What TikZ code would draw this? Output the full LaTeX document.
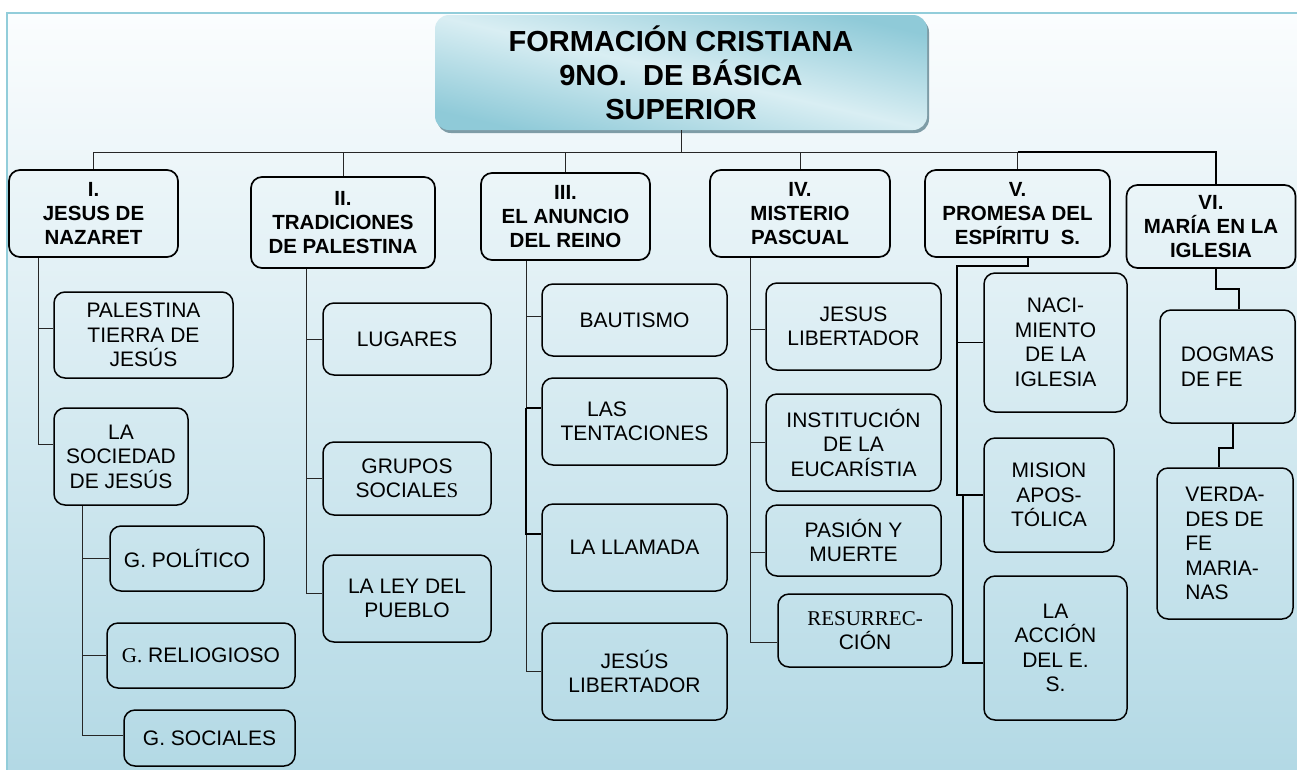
\documentclass[tikz,border=0pt]{standalone}
\usepackage{fontspec}
\setmainfont{Liberation Sans}
\newfontfamily\tnr{Liberation Serif}
\usetikzlibrary{shadows}

\definecolor{framecol}{HTML}{92CDDA}
\definecolor{bgtop}{HTML}{FBFDFE}
\definecolor{bgbot}{HTML}{B3D9E5}
\definecolor{tlight}{HTML}{D9EEF3}
\definecolor{tblue}{HTML}{8FCAD8}
\definecolor{shadowcol}{HTML}{7E9CA6}

\newcommand{\leaffont}{\fontsize{21}{24.5}\selectfont}
\newcommand{\headfont}{\fontsize{20.5}{24}\selectfont\bfseries}
\newcommand{\titlefont}{\fontsize{29}{34.2}\selectfont\bfseries}

\begin{document}
\begin{tikzpicture}[x=1pt,y=-1pt,
    titlebox/.style={rounded corners=14pt, inner sep=0pt, align=center, font=\titlefont,
      top color=tblue, bottom color=tblue, middle color=tlight, shading angle=-13,
      drop shadow={shadow xshift=2pt, shadow yshift=-3pt, fill=shadowcol, opacity=1}},
    head/.style={draw, rounded corners=11pt, line width=1.7pt, inner sep=0pt, align=center, font=\headfont},
    leaf/.style={draw, rounded corners=11pt, line width=1.5pt, inner sep=0pt, align=center, font=\leaffont},
    conn/.style={line width=0.9pt, black!85},
    thk/.style={line width=1.7pt, black}]
  \useasboundingbox (0,0) rectangle (1297,769);
  % background and frame
  \shade[top color=bgtop, bottom color=bgbot] (7,13) rectangle (1297,769);
  \draw[framecol, line width=2pt] (7,770) -- (7,13) -- (1298,13);

  % title
  \node[titlebox, minimum width=492pt, minimum height=115pt] (title) at (681,72.5)
    {FORMACIÓN CRISTIANA\\9NO.\ \ DE BÁSICA\\SUPERIOR};

  % units
  \node[head, minimum width=169pt, minimum height=87pt] (h1) at (93.5,213.5) {I.\\JESUS DE\\NAZARET};
  \node[head, minimum width=184pt, minimum height=91pt] (h2) at (343,222.5) {II.\\TRADICIONES\\DE PALESTINA};
  \node[head, minimum width=169pt, minimum height=87pt] (h3) at (565.5,216.5) {III.\\EL ANUNCIO\\DEL REINO};
  \node[head, minimum width=180pt, minimum height=87pt] (h4) at (800,213.5) {IV.\\MISTERIO\\PASCUAL};
  \node[head, minimum width=185pt, minimum height=87pt] (h5) at (1017.5,213.5) {V.\\PROMESA DEL\\ESPÍRITU\ \ S.};
  \node[head, minimum width=169pt, minimum height=83pt] (h6) at (1211,226.5) {VI.\\MARÍA EN LA\\IGLESIA};

  % I
  \node[leaf, minimum width=179pt, minimum height=86pt] (pal) at (143.5,335) {PALESTINA\\TIERRA DE\\JESÚS};
  \node[leaf, minimum width=134pt, minimum height=97pt] (soc) at (121,456.5) {LA\\SOCIEDAD\\DE JESÚS};
  \node[leaf, minimum width=154pt, minimum height=65pt] (gpol) at (187,558.5) {G. POLÍTICO};
  \node[leaf, minimum width=188pt, minimum height=65pt] (grel) at (201,655.5) {{\tnr G.} RELIOGIOSO};
  \node[leaf, minimum width=171pt, minimum height=56pt] (gsoc) at (209.5,738) {G. SOCIALES};
  % II
  \node[leaf, minimum width=168pt, minimum height=72pt] (lug) at (407,339) {LUGARES};
  \node[leaf, minimum width=168pt, minimum height=73pt] (gru) at (407,478.5) {GRUPOS\\SOCIALE{\tnr S}};
  \node[leaf, minimum width=168pt, minimum height=87pt] (ley) at (407,598.5) {LA LEY DEL\\PUEBLO};
  % III
  \node[leaf, minimum width=185pt, minimum height=72pt] (bau) at (634.5,320) {BAUTISMO};
  \node[leaf, minimum width=185pt, minimum height=87pt] (ten) at (634.5,421.5) {LAS\hspace{55pt}\null\\TENTACIONES};
  \node[leaf, minimum width=185pt, minimum height=87pt] (lla) at (634.5,547.5) {LA LLAMADA};
  \node[leaf, minimum width=185pt, minimum height=97pt] (jlib) at (634.5,671.5) {JESÚS\\LIBERTADOR};
  % IV
  \node[leaf, minimum width=175pt, minimum height=87pt] (jl4) at (853.5,326.5) {JESUS\\LIBERTADOR};
  \node[leaf, minimum width=175pt, minimum height=97pt] (ins) at (853.5,442.5) {INSTITUCIÓN\\DE LA\\EUCARÍSTIA};
  \node[leaf, minimum width=175pt, minimum height=71pt] (pas) at (853.5,540.5) {PASIÓN Y\\MUERTE};
  \node[leaf, minimum width=174pt, minimum height=73pt] (res) at (865,630.5) {{\tnr RESURREC-}\\CIÓN};
  % V
  \node[leaf, minimum width=143pt, minimum height=139pt] (nac) at (1055.5,342.5) {NACI-\\MIENTO\\DE LA\\IGLESIA};
  \node[leaf, minimum width=130pt, minimum height=114pt] (mis) at (1049,495) {MISION\\APOS-\\TÓLICA};
  \node[leaf, minimum width=143pt, minimum height=144pt] (acc) at (1055.5,648) {LA\\ACCIÓN\\DEL E.\\S.};
  % VI
  \node[leaf, align=left, minimum width=135pt, minimum height=113pt] (dog) at (1227.5,366.5) {DOGMAS\\DE FE};
  \node[leaf, align=left, minimum width=136pt, minimum height=151pt] (ver) at (1225,543.5) {VERDA-\\DES DE\\FE\\MARIA-\\NAS};

  % bus
  \coordinate (bus) at (0,152);
  \coordinate (b6) at (1216,152);
  \draw[conn] (title.south) -- (title.south |- bus);
  \draw[conn] (h1.north |- bus) -- (h5.north |- bus);
  \draw[thk] (h5.north |- bus) -- (b6) -- (h6.north -| b6);
  \foreach \h in {h1,h2,h3,h4,h5}
    \draw[conn] (\h.north |- bus) -- (\h.north);

  % spines
  \coordinate (s1) at (38,0);
  \coordinate (s1b) at (82,0);
  \coordinate (s2) at (306,0);
  \coordinate (s3) at (526,0);
  \coordinate (s4) at (750,0);
  \coordinate (s5) at (957,266);
  \coordinate (s5b) at (963,495);

  \draw[conn] (h1.south -| s1) |- ([yshift=7pt]pal.west);
  \draw[conn] (h1.south -| s1) |- ([yshift=12.5pt]soc.west);
  \draw[conn] (soc.south -| s1b) |- (gpol.west);
  \draw[conn] (soc.south -| s1b) |- (grel.west);
  \draw[conn] (soc.south -| s1b) |- ([yshift=3pt]gsoc.west);

  \draw[conn] (h2.south -| s2) |- (lug.west);
  \draw[conn] (h2.south -| s2) |- (gru.west);
  \draw[conn] (h2.south -| s2) |- ([yshift=5.5pt]ley.west);

  \draw[conn] (h3.south -| s3) |- ([yshift=4pt]bau.west);
  \draw[conn] (h3.south -| s3) |- (jlib.west);
  \draw[thk] ([yshift=13.5pt]ten.west -| s3) -- ([yshift=13.5pt]ten.west);
  \draw[thk] ([yshift=13.5pt]ten.west -| s3) |- ([yshift=13.5pt]lla.west);

  \draw[conn] (h4.south -| s4) |- ([yshift=-2.5pt]jl4.west);
  \draw[conn] (h4.south -| s4) |- (ins.west);
  \draw[conn] (h4.south -| s4) |- ([yshift=-11.5pt]pas.west);
  \draw[conn] (h4.south -| s4) |- ([yshift=-11.5pt]res.west);

  \draw[thk] ([xshift=10.5pt]h5.south) |- (s5) |- (nac.west);
  \draw[thk] (nac.west -| s5) |- (mis.west);
  \draw[thk] (s5b) |- ([yshift=-15pt]acc.west);

  \draw[thk] (h6.south -| b6) -- ++(0,20) -| ([xshift=11.5pt]dog.north);
  \draw[thk] ([xshift=5.5pt]dog.south) -- ++(0,24) -| ([xshift=-6pt]ver.north);
\end{tikzpicture}
\end{document}
